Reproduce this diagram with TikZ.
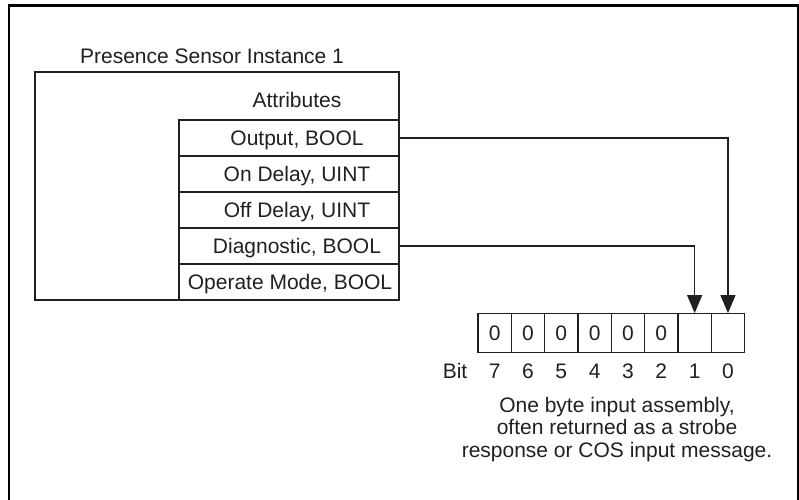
\documentclass[tikz,border=0pt]{standalone}
\usepackage{fontspec}
\setmainfont{Liberation Sans}
\usetikzlibrary{arrows.meta}
\definecolor{ink}{HTML}{231F20}
\tikzset{
  row/.style={draw=ink,line width=1.3pt,minimum width=220pt,minimum height=36pt,
    text height=15pt,text depth=0pt,inner sep=0pt,execute at begin node={\hspace*{#1}}},
  row/.default=16pt,
  cell/.style={draw=ink,line width=1.3pt,minimum width=33.33pt,minimum height=38.5pt,
    text height=15pt,text depth=0pt,inner sep=0pt},
  feed/.style={draw=ink,line width=1.3pt,-{Triangle[length=18pt,width=15pt]}}
}
\begin{document}
\begin{tikzpicture}[x=1pt,y=-1pt,font=\fontsize{21}{22.5}\selectfont,text=ink]
  \path[use as bounding box,clip] (0,0) rectangle (799,499) ;
  \draw[line width=2.7pt] (9,5.5) rectangle (798.5,520) ;
  % instance and its attributes
  \node[draw=ink,line width=1.3pt,minimum width=364pt,minimum height=228pt,inner sep=0pt] %
  (inst) at (217,186) {} ;
  \node[anchor=base] (title) at (212,63) {Presence Sensor Instance 1} ;
  \node[anchor=base] (attr) at (297,107) {Attributes} ;
  \node[row] (out) at (289,138) {Output, BOOL} ;
  \node[row] (ondelay) at (289,174) {On Delay, UINT} ;
  \node[row] (offdelay) at (289,210) {Off Delay, UINT} ;
  \node[row] (diag) at (289,246) {Diagnostic, BOOL} ;
  \node[row=2pt] (opmode) at (289,282) {Operate Mode, BOOL} ;
  % input byte
  \foreach \b/\v in {7/0,6/0,5/0,4/0,3/0,2/0,1/,0/} {
    \node[cell] (bit\b) at ({478+(7.5-\b)*33.33},333) {\v} ;
    \node[anchor=base] (num\b) at ({478+(7.5-\b)*33.33},378) {\b} ;
  }
  \node[anchor=base] (bitword) at (455,378) {Bit} ;
  \node[anchor=north,align=center,inner sep=0pt] (note) at (617,397) %
  {One byte input assembly,\\often returned as a strobe\\response or COS input message.} ;
  \draw[feed] (out.east) -| (bit0.north) ;
  \draw[feed] (diag.east) -| (bit1.north) ;
\end{tikzpicture}
\end{document}
